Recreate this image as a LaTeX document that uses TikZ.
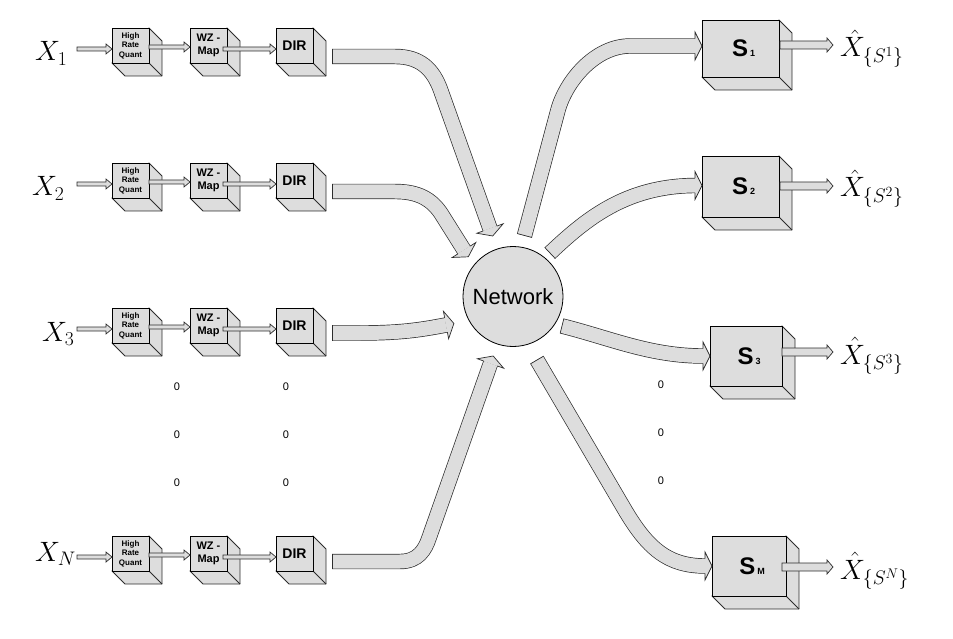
\RequirePackage{fix-cm}
\documentclass[tikz,border=0pt]{standalone}
\usepackage[no-math]{fontspec}
\newfontfamily\arial{Liberation Sans}
\usetikzlibrary{calc}
\definecolor{boxgray}{RGB}{221,221,221}
\definecolor{edgec}{RGB}{45,45,45}
\tikzset{
  front/.style={draw=black, fill=boxgray, line width=0.8pt, inner sep=0pt, outer sep=0pt, anchor=north west, align=center, font=\arial\bfseries},
  side/.style={draw=edgec, fill=boxgray, line width=0.8pt, line join=round},
  sideedge/.style={draw=edgec, line width=0.8pt},
  sarrow/.style={draw=edgec, fill=boxgray, line width=0.7pt, line join=miter},
  bigshaft/.style={draw=edgec, line width=0.7pt, double=boxgray, double distance=14pt},
  bigedge/.style={draw=edgec, line width=0.7pt, line join=miter},
  lbl/.style={inner sep=0pt, anchor=base west, font=\fontsize{28}{30}\selectfont},
  dotlbl/.style={inner sep=0pt, font=\arial\fontsize{11}{11}\selectfont},
  netnode/.style={circle, draw=black, fill=boxgray, line width=0.8pt, minimum size=100pt, inner sep=0pt, font=\arial\fontsize{22}{22}\selectfont},
  slabel/.style={font=\arial\bfseries, text depth=0pt},
}
% #1 name, #2 x, #3 y (top-left of front face), #4 w, #5 h, #6 options, #7 text
\newcommand\cube[7]{%
  \path[side] (#2+#4,#3) -- ++(13,13) -- ++(0,#5) -- ++(-#4,0) -- ++(-13,-13) -- cycle;
  \draw[sideedge] (#2+#4,#3+#5) -- ++(13,13);
  \node[front, minimum width=#4, minimum height=#5, #6] (#1) at (#2,#3) {#7};
}
% #1 start coord, #2 end coord, #3 half shaft, #4 half head, #5 head length
\newcommand\sarr[5]{%
  \path[sarrow] ($(#1)+(0,-#3)$) -- ($(#2)+(-#5,-#3)$) -- ($(#2)+(-#5,-#4)$) -- (#2)
    -- ($(#2)+(-#5,#4)$) -- ($(#2)+(-#5,#3)$) -- ($(#1)+(0,#3)$) -- cycle;
}
\newcommand\bigtail[2]{%
  \draw[bigedge] ($(#1)!7.7pt!90:(#2)$) -- ($(#1)!7.7pt!-90:(#2)$);
}
\newcommand\bighead[2]{%
  \fill[boxgray] ($(#1)!14pt!90:(#2)$) -- (#2) -- ($(#1)!14pt!-90:(#2)$) -- cycle;
  \draw[bigedge] ($(#1)!7.3pt!90:(#2)$) -- ($(#1)!14pt!90:(#2)$) -- (#2)
    -- ($(#1)!14pt!-90:(#2)$) -- ($(#1)!7.3pt!-90:(#2)$);
}
\newcommand\slbl[1]{\hspace*{6pt}{\fontsize{24}{24}\selectfont S}\kern2pt{\fontsize{9}{9}\selectfont #1}}
\begin{document}
\begin{tikzpicture}[x=1pt,y=-1pt]
\useasboundingbox (0,0) rectangle (953,639);

% ---------- left chains ----------
\foreach \r/\cy in {1/45.5, 2/180.5, 3/325.5, 4/553.5} {
  \cube{hrq\r}{112}{\cy-17.5}{37}{35}{font=\arial\bfseries\fontsize{8}{9.5}\selectfont}{High\\Rate\\Quant}
  \cube{wz\r}{190}{\cy-17.5}{37}{35}{font=\arial\bfseries\fontsize{11}{13}\selectfont}{WZ -\\Map}
  \cube{dir\r}{276}{\cy-17.5}{37}{35}{font=\arial\bfseries\fontsize{14}{14}\selectfont}{DIR}
  \coordinate (xa\r) at (77,\cy+3.5);
  \coordinate (xb\r) at ($(hrq\r.west)+(0,3.5)$);
  \coordinate (ha\r) at ($(hrq\r.east)+(0,1.5)$);
  \coordinate (hb\r) at ($(wz\r.west)+(0,1.5)$);
  \coordinate (wa\r) at ($(wz\r.east)+(-4,3.5)$);
  \coordinate (wb\r) at ($(dir\r.west)+(0,3.5)$);
  \sarr{xa\r}{xb\r}{2}{5}{6}
  \sarr{ha\r}{hb\r}{2}{5}{6}
  \sarr{wa\r}{wb\r}{2}{5}{6}
}

% input labels
\node[lbl] (x1) at (35,61) {$X_1$};
\node[lbl] (x2) at (32,196) {$X_2$};
\node[lbl] (x3) at (42,341) {$X_3$};
\node[lbl] (xn) at (35,561) {$X_N$};

% dots
\node[dotlbl] (dl1) at (177,387) {0};
\node[dotlbl] (dl2) at (177,435) {0};
\node[dotlbl] (dl3) at (177,483) {0};
\node[dotlbl] (dm1) at (286,387) {0};
\node[dotlbl] (dm2) at (286,435) {0};
\node[dotlbl] (dm3) at (286,483) {0};
\node[dotlbl] (dr1) at (661,385) {0};
\node[dotlbl] (dr2) at (661,433) {0};
\node[dotlbl] (dr3) at (661,481) {0};

% ---------- network ----------
\node[netnode] (net) at (513,296.5) {Network};

% ---------- sinks ----------
\cube{s1}{702}{20}{77}{57}{slabel}{\slbl{1}}
\cube{s2}{702}{156}{77}{61}{slabel}{\slbl{2}}
\cube{s3}{710}{326}{72}{60}{slabel}{\slbl{3}}
\cube{sm}{712}{536}{74}{60}{slabel}{\slbl{M}}

\coordinate (o1a) at (780,45);  \coordinate (o1b) at (833,45);
\coordinate (o2a) at (780,186); \coordinate (o2b) at (833,186);
\coordinate (o3a) at (782,352); \coordinate (o3b) at (833,352);
\coordinate (oma) at (782,567); \coordinate (omb) at (833,567);
\sarr{o1a}{o1b}{4}{7}{6}
\sarr{o2a}{o2b}{4}{7}{6}
\sarr{o3a}{o3b}{4}{7}{6}
\sarr{oma}{omb}{4}{7}{6}

\node[lbl] (y1) at (840,57) {$\hat{X}_{\{S^1\}}$};
\node[lbl] (y2) at (840,197) {$\hat{X}_{\{S^2\}}$};
\node[lbl] (y3) at (840,364) {$\hat{X}_{\{S^3\}}$};
\node[lbl] (ym) at (840,579) {$\hat{X}_{\{S^N\}}$};

% ---------- big arrows into network ----------
\coordinate (a1s) at (332,56.5);  \coordinate (a1n) at (342,56.5);
\coordinate (a1b) at (490,228.5); \coordinate (a1t) at (492.7,236);
\draw[bigshaft] (a1s) -- (395,56.5) .. controls (420,56.5) and (433,69) .. (440.6,90) -- (a1b);
\bigtail{a1s}{a1n}
\bighead{a1b}{a1t}

\coordinate (a2s) at (332,191.5); \coordinate (a2n) at (342,191.5);
\coordinate (a2b) at (464,250);   \coordinate (a2t) at (468.3,256.8);
\draw[bigshaft] (a2s) -- (395,191.5) .. controls (418,191.5) and (432,199) .. (442,215) -- (a2b);
\bigtail{a2s}{a2n}
\bighead{a2b}{a2t}

\coordinate (a3s) at (332,333);   \coordinate (a3n) at (342,333);
\coordinate (a3b) at (446,325);   \coordinate (a3t) at (453.9,323.5);
\draw[bigshaft] (a3s) -- (360,333) .. controls (400,333) and (420,330) .. (a3b);
\bigtail{a3s}{a3n}
\bighead{a3b}{a3t}

\coordinate (a4s) at (332,561.5); \coordinate (a4n) at (342,561.5);
\coordinate (a4b) at (490.5,363.5); \coordinate (a4t) at (493.2,356);
\draw[bigshaft] (a4s) -- (400,561.5) .. controls (418,561.5) and (425,550) .. (429,538) -- (a4b);
\bigtail{a4s}{a4n}
\bighead{a4b}{a4t}

% ---------- big arrows out of network ----------
\coordinate (b1s) at (524.5,235.5); \coordinate (b1n) at (558,110);
\coordinate (b1b) at (695,46);      \coordinate (b1t) at (702,46);
\draw[bigshaft] (b1s) -- (b1n) .. controls (566,81) and (595,46) .. (630,46) -- (b1b);
\bigtail{b1s}{b1n}
\bighead{b1b}{b1t}

\coordinate (b2s) at (550,253);     \coordinate (b2n) at (585,220);
\coordinate (b2b) at (695,185.5);   \coordinate (b2t) at (702,185.5);
\draw[bigshaft] (b2s) .. controls (b2n) and (625,186) .. (b2b);
\bigtail{b2s}{b2n}
\bighead{b2b}{b2t}

\coordinate (b3s) at (562,326);     \coordinate (b3n) at (610,338);
\coordinate (b3b) at (703,356);     \coordinate (b3t) at (710,356);
\draw[bigshaft] (b3s) .. controls (b3n) and (650,356) .. (b3b);
\bigtail{b3s}{b3n}
\bighead{b3b}{b3t}

\coordinate (b4s) at (537,360);     \coordinate (b4n) at (622,505);
\coordinate (b4b) at (705,566);     \coordinate (b4t) at (712,566);
\draw[bigshaft] (b4s) -- (b4n) .. controls (645,545) and (665,566) .. (b4b);
\bigtail{b4s}{b4n}
\bighead{b4b}{b4t}

\end{tikzpicture}
\end{document}
